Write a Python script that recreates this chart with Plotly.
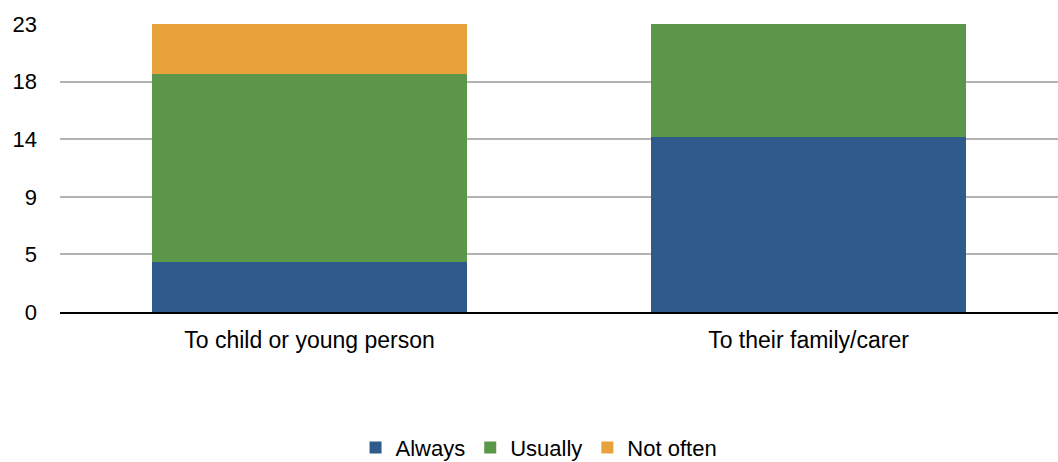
import plotly.graph_objects as go

categories = ["To child or young person", "To their family/carer"]
always = [4, 14]
usually = [15, 9]
not_often = [4, 0]
tick_vals = [0, 4.6, 9.2, 13.8, 18.4, 23]
tick_text = ["0", "5", "9", "14", "18", "23"]

colors = {"Always": "#2E5A8C", "Usually": "#5C9649", "Not often": "#E8A23C"}

fig = go.Figure()
for name, vals in [("Always", always), ("Usually", usually), ("Not often", not_often)]:
    fig.add_trace(go.Bar(x=categories, y=vals, name=name, marker_color=colors[name],
                         marker_line_width=0, width=0.633))

fig.update_layout(
    barmode="stack",
    width=1058, height=462,
    margin=dict(l=60, r=0, t=24, b=150, autoexpand=False),
    plot_bgcolor="white", paper_bgcolor="white",
    font=dict(family="Liberation Sans, Arial, sans-serif", size=22, color="#000000"),
    showlegend=True,
    legend=dict(orientation="h", x=0.48, xanchor="center", y=-0.398, yanchor="top",
                font=dict(size=22), traceorder="normal", itemwidth=30),
    bargap=0.367,
)
fig.update_yaxes(range=[0, 23], tickvals=tick_vals, ticktext=tick_text,
                 showgrid=True, gridcolor="#B3B3B3", gridwidth=2, zeroline=False,
                 ticks="", ticklen=0, showline=False, automargin=False,
                 ticklabelstandoff=22, tickfont=dict(size=22))
fig.update_xaxes(showline=True, linecolor="#000000", linewidth=2, ticks="", showgrid=False,
                 automargin=False, ticklabelstandoff=6, tickfont=dict(size=23))
fig.write_html("out.html", config={"displayModeBar": False},
               post_script="document.body.style.margin='0';document.body.style.overflow='hidden';")
